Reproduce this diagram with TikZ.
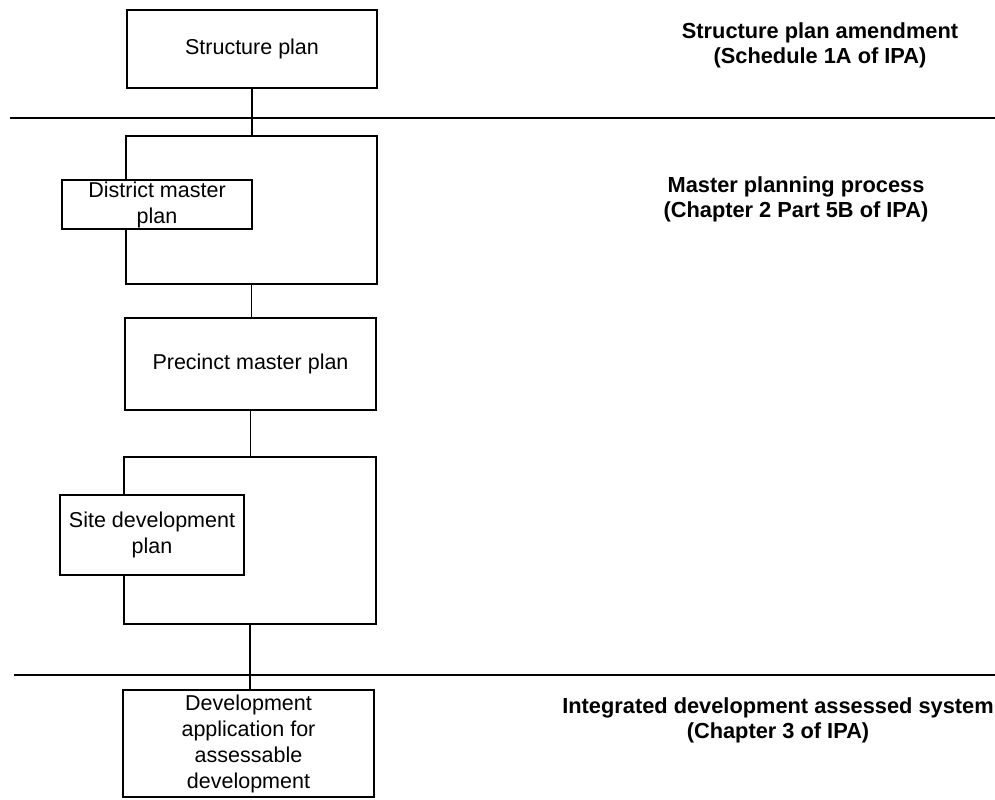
\documentclass[tikz,border=0pt]{standalone}
\usepackage{fontspec}
\setmainfont{Liberation Sans}
\usetikzlibrary{positioning}
\tikzset{
  planbox/.style={rectangle, draw=black, line width=0.6pt, fill=white, inner sep=0pt, align=center},
  outerbox/.style={rectangle, draw=black, line width=0.6pt, inner sep=0pt},
  stagelabel/.style={font=\fontsize{10.9}{12.5}\selectfont\bfseries, align=center, inner sep=0pt},
  divider/.style={line width=0.6pt},
  link/.style={line width=0.6pt},
}

\begin{document}
\begin{tikzpicture}[x=0.5pt, y=-0.5pt, font=\fontsize{10.75}{13}\selectfont]
  \useasboundingbox (0,0) rectangle (995,799);

  % --- STRUCTURE PLAN ---
  \node[planbox, minimum width=125pt, minimum height=39pt] (struct) at (252,49) {Structure plan};

  % --- MASTER PLANNING ---
  \node[outerbox, minimum width=125.5pt, minimum height=74pt] (district-frame) at (251.5,210) {};
  \node[planbox, minimum width=95pt, minimum height=24.5pt] (district) at (157,204.5) {District master\\plan};
  \node[planbox, minimum width=125.5pt, minimum height=46pt] (precinct) at (250.5,364) {Precinct master plan};
  \node[outerbox, minimum width=126pt, minimum height=83.5pt] (site-frame) at (250,540.5) {};
  \node[planbox, minimum width=92pt, minimum height=40pt] (site) at (152,535) {Site development\\plan};

  % --- DEVELOPMENT ASSESSMENT ---
  \node[planbox, minimum width=125.5pt, minimum height=53.5pt] (devapp) at (248.5,743.5) {Development\\application for\\assessable\\development};

  % --- DIVIDERS ---
  \coordinate (div1-w) at (10,118);
  \coordinate (div1-e) at (995,118);
  \coordinate (div2-w) at (14,675);
  \coordinate (div2-e) at (995,675);
  \draw[divider] (div1-w) -- (div1-e);
  \draw[divider] (div2-w) -- (div2-e);

  % --- LINKS ---
  \draw[link] (struct.south) -- (struct.south |- district-frame.north);
  \draw[link] (district-frame.south) -- (district-frame.south |- precinct.north);
  \draw[link] (precinct.south) -- (precinct.south |- site-frame.north);
  \draw[link] (site-frame.south) -- (site-frame.south |- devapp.north);

  % --- STAGE LABELS ---
  \node[stagelabel] (stage1) at (820,45) {Structure plan amendment\\(Schedule 1A of IPA)};
  \node[stagelabel] (stage2) at (796,199) {Master planning process\\(Chapter 2 Part 5B of IPA)};
  \node[stagelabel] (stage3) at (778,720) {Integrated development assessed system\\(Chapter 3 of IPA)};

\end{tikzpicture}
\end{document}
